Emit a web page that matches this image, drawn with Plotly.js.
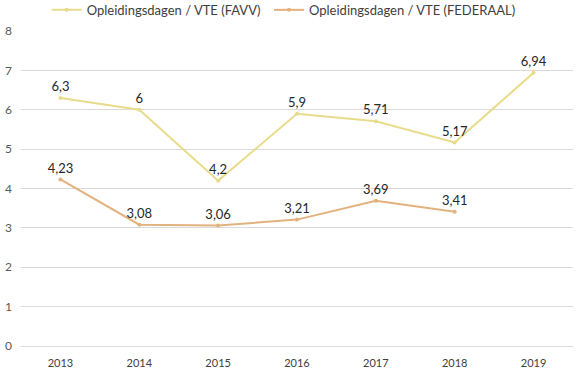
<!DOCTYPE html>
<html><head><meta charset="utf-8">
<script src="https://cdn.plot.ly/plotly-3.0.1.min.js"></script>
<style>body{margin:0;background:#fff}#c{width:576px;height:369px}</style>
</head><body><div id="c"></div>
<script>
const years = ["2013","2014","2015","2016","2017","2018","2019"];
const favv = [6.3, 6, 4.2, 5.9, 5.71, 5.17, 6.94];
const federaal = [4.23, 3.08, 3.06, 3.21, 3.69, 3.41, null];
const names = ["Opleidingsdagen / VTE (FAVV)", "Opleidingsdagen / VTE (FEDERAAL)"];
const colors = ["#E8DC8A", "#E2B27E"];
const fmt = v => v === null ? "" : String(v).replace(".", ",");
const mk = (y, i) => ({
  x: years, y: y, name: names[i], type: "scatter", mode: "lines+markers+text",
  legend: i === 0 ? "legend" : "legend2",
  line: {color: colors[i], width: 2}, marker: {color: colors[i], size: 4},
  text: y.map(fmt), textposition: "top center",
  textfont: {family: "Lato, sans-serif", size: 13, color: "#262626"},
  cliponaxis: false, connectgaps: false
});
const leg = x => ({orientation: "h", xref: "container", x: x, xanchor: "left", y: 1.067, yanchor: "middle",
    bgcolor: "rgba(0,0,0,0)", font: {size: 13, color: "#404040"}, itemwidth: 30});
Plotly.newPlot("c", [mk(favv,0), mk(federaal,1)], {
  width: 576, height: 369,
  margin: {l: 21, r: 3, t: 31, b: 23, autoexpand: false},
  paper_bgcolor: "#fff", plot_bgcolor: "#fff",
  font: {family: "Lato, sans-serif", size: 11, color: "#595959"},
  showlegend: true,
  legend: leg(0.081),
  legend2: leg(0.467),
  xaxis: {type: "category", range: [-0.5, 6.5], showgrid: false, zeroline: false, showline: false,
    ticks: "", tickfont: {size: 11, color: "#404040"}, ticklabelstandoff: 9, automargin: false},
  yaxis: {range: [0, 8], dtick: 1, gridcolor: "#d9d9d9", zeroline: true, zerolinecolor: "#d9d9d9",
    showline: false, ticks: "", tickfont: {size: 12, color: "#595959"}, ticklabelstandoff: 8, automargin: false}
}, {displayModeBar: false, staticPlot: true});
</script></body></html>
